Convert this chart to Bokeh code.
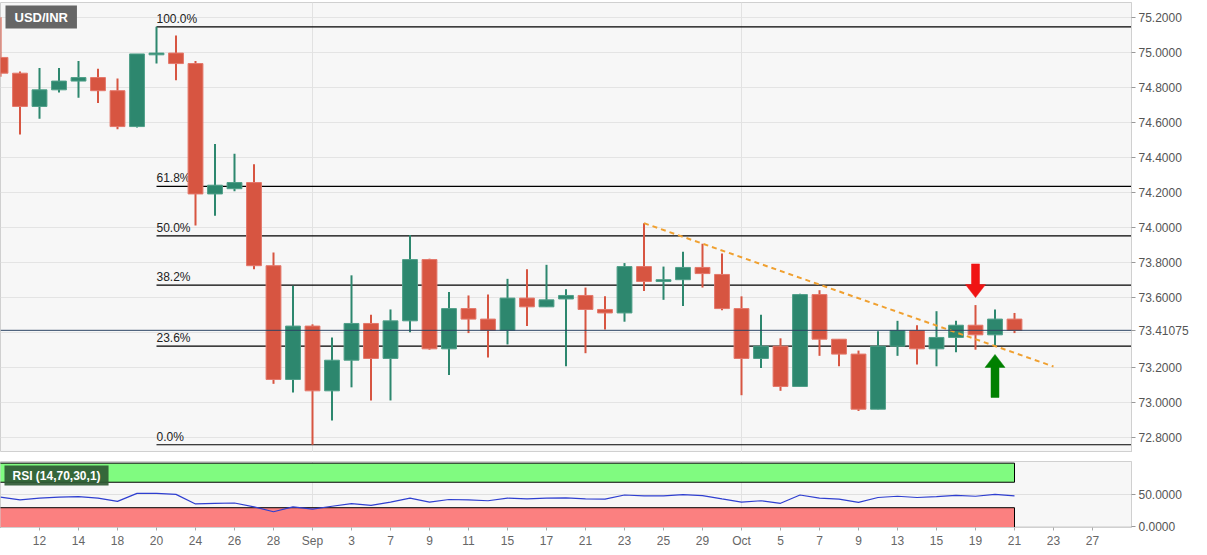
from bokeh.plotting import figure
from bokeh.layouts import column
from bokeh.models import (ColumnDataSource, FixedTicker, PrintfTickFormatter, Label, Span,
                          Range1d, Grid)
from bokeh.core.properties import value
from bokeh.embed import file_html
from bokeh.resources import INLINE

# ---------------- data ----------------
dates = ["Aug 10", "Aug 11", "Aug 12", "Aug 13", "Aug 14", "Aug 17", "Aug 18", "Aug 19", "Aug 20",
         "Aug 21", "Aug 24", "Aug 25", "Aug 26", "Aug 27", "Aug 28", "Aug 31", "Sep 1", "Sep 2",
         "Sep 3", "Sep 4", "Sep 7", "Sep 8", "Sep 9", "Sep 10", "Sep 11", "Sep 14", "Sep 15",
         "Sep 16", "Sep 17", "Sep 18", "Sep 21", "Sep 22", "Sep 23", "Sep 24", "Sep 25", "Sep 28",
         "Sep 29", "Sep 30", "Oct 1", "Oct 2", "Oct 5", "Oct 6", "Oct 7", "Oct 8", "Oct 9",
         "Oct 12", "Oct 13", "Oct 14", "Oct 15", "Oct 16", "Oct 19", "Oct 20", "Oct 21"]

opens = [74.97, 74.88, 74.69, 74.785, 74.835, 74.855, 74.78, 74.575, 74.985, 74.995,
         74.935, 74.19, 74.22, 74.255, 73.78, 73.13, 73.435, 73.065, 73.24, 73.45,
         73.25, 73.465, 73.815, 73.305, 73.535, 73.475, 73.41, 73.595, 73.545, 73.59,
         73.61, 73.53, 73.51, 73.775, 73.69, 73.70, 73.77, 73.73, 73.535, 73.25,
         73.32, 73.09, 73.615, 73.36, 73.275, 72.96, 73.32, 73.41, 73.305, 73.37,
         73.44, 73.385, 73.475]
highs = [75.20, 74.89, 74.91, 74.91, 74.95, 74.905, 74.85, 74.99, 75.145, 75.095,
         74.95, 74.475, 74.42, 74.36, 73.855, 73.665, 73.445, 73.37, 73.725, 73.50,
         73.53, 73.955, 73.82, 73.63, 73.61, 73.615, 73.705, 73.76, 73.785, 73.645,
         73.655, 73.605, 73.795, 74.023, 73.775, 73.86, 73.905, 73.85, 73.605, 73.50,
         73.365, 73.62, 73.64, 73.36, 73.295, 73.405, 73.465, 73.44, 73.52, 73.465,
         73.555, 73.53, 73.51]
lows = [74.86, 74.53, 74.62, 74.77, 74.74, 74.71, 74.56, 74.57, 74.935, 74.84,
        74.01, 74.065, 74.205, 73.76, 73.105, 73.055, 72.757, 72.895, 73.085, 73.01,
        73.01, 73.40, 73.30, 73.155, 73.395, 73.255, 73.33, 73.435, 73.545, 73.205,
        73.28, 73.415, 73.46, 73.635, 73.585, 73.55, 73.655, 73.525, 73.04, 73.195,
        73.065, 73.09, 73.265, 73.205, 72.95, 72.96, 73.265, 73.215, 73.205, 73.285,
        73.30, 73.315, 73.395]
closes = [74.88, 74.69, 74.785, 74.835, 74.855, 74.78, 74.575, 74.99, 74.995, 74.935,
          74.19, 74.24, 74.255, 73.78, 73.13, 73.435, 73.065, 73.24, 73.45, 73.25,
          73.465, 73.815, 73.305, 73.535, 73.475, 73.41, 73.595, 73.545, 73.585, 73.61,
          73.53, 73.51, 73.775, 73.69, 73.70, 73.77, 73.735, 73.535, 73.25, 73.32,
          73.09, 73.615, 73.36, 73.275, 72.96, 73.32, 73.41, 73.305, 73.37, 73.44,
          73.385, 73.475, 73.41]

rsi = [46.5, 42.4, 45.0, 46.5, 47.5, 45.0, 39.9, 52.5, 52.5, 51.0,
       35.9, 36.9, 37.4, 31.3, 23.7, 31.3, 27.8, 32.3, 36.4, 33.8,
       38.9, 45.0, 38.9, 42.9, 42.4, 40.9, 45.0, 43.9, 45.0, 45.5,
       43.9, 43.4, 50.0, 48.5, 48.5, 50.5, 49.0, 43.9, 38.9, 40.9,
       36.9, 50.0, 45.0, 43.4, 38.4, 46.0, 48.0, 46.0, 47.5, 49.5,
       48.0, 51.0, 48.5]

tick_labels = ["Aug", "12", "14", "18", "20", "24", "26", "28", "Sep", "3", "7", "9", "11",
               "15", "17", "21", "23", "25", "29", "Oct", "5", "7", "9", "13", "15", "19",
               "21", "23", "27"]
price_ticks = [72.8, 73.0, 73.2, 73.4, 73.6, 73.8, 74.0, 74.2, 74.4, 74.6, 74.8, 75.0, 75.2]
rsi_ticks = [0, 50]
month_starts = [16, 38]

fib_ratios = [0.0, 0.236, 0.382, 0.5, 0.618, 1.0]
fib_labels = ["0.0%", "23.6%", "38.2%", "50.0%", "61.8%", "100.0%"]
fib_low = 72.757
fib_high = 75.145
fib_start = 8

trend_x = [33, 54]
trend_y = [74.023, 73.204]
last_price = 73.41075

arrow_x = [50, 51]
arrow_tail = [73.79, 73.027]
arrow_tip = [73.598, 73.273]
arrow_colors = ["#f01414", "#008000"]

rsi_upper = 70
rsi_lower = 30

# ---------------- styling ----------------
GREEN = "#2d876e"
GREEN_EDGE = "#4f9f88"
RED = "#d75541"
RED_EDGE = "#e4776a"
FONT = "Liberation Sans"
W = 1205
RIGHT = 74
X0, X1 = 0.0, 58.0
Y0, Y1 = 72.7126, 75.284
FRAME_W = W - RIGHT
FRAME_H = 450
TOP1 = 2
px_x = FRAME_W / (X1 - X0)
px_y = FRAME_H / (Y1 - Y0)


def style_axis(a, color="#555555", tick_out=4, standoff=3):
    a.major_label_text_font = FONT
    a.major_label_text_font_size = "12px"
    a.major_label_text_color = color
    a.axis_line_color = "#d0d0d0"
    a.major_tick_line_color = "#999999"
    a.major_tick_out = tick_out
    a.major_tick_in = 0
    a.minor_tick_line_color = None
    a.major_label_standoff = standoff


n = len(opens)
idx = list(range(n))
up = [c >= o for o, c in zip(opens, closes)]
src = ColumnDataSource(dict(
    x=idx, open=opens, high=highs, low=lows, close=closes,
    top=[max(o, c) for o, c in zip(opens, closes)],
    bottom=[min(o, c) for o, c in zip(opens, closes)],
    color=[GREEN if u else RED for u in up],
    edge=[GREEN_EDGE if u else RED_EDGE for u in up],
    date=dates,
))

p1 = figure(width=W, height=FRAME_H + TOP1, x_range=Range1d(X0, X1), y_range=Range1d(Y0, Y1),
            output_backend="svg", toolbar_location=None, x_axis_location=None,
            y_axis_location="right", min_border_left=0, min_border_right=RIGHT,
            min_border_top=TOP1, min_border_bottom=0)
p1.background_fill_color = "#f7f7f7"
p1.border_fill_color = "white"
p1.outline_line_color = "#d0d0d0"
for g in p1.xgrid:
    g.visible = False
p1.add_layout(Grid(dimension=0, ticker=FixedTicker(ticks=month_starts),
                   grid_line_color="#e2e2e2"))
p1.ygrid.ticker = FixedTicker(ticks=price_ticks)
p1.ygrid.grid_line_color = "#e4e4e4"

ax = p1.yaxis[0]
# the last price replaces the tick it covers on the price scale
axis_ticks = sorted([t for t in price_ticks if abs(t - last_price) > 0.05] + [last_price])
ax.ticker = FixedTicker(ticks=axis_ticks)
ax.formatter = PrintfTickFormatter(format="%.4f")
ax.major_label_overrides = {last_price: f"{last_price:.5f}"}
style_axis(ax)

# fib retracement lines
fib_levels = [fib_low + r * (fib_high - fib_low) for r in fib_ratios]
p1.ray(x=[fib_start] * len(fib_levels), y=fib_levels, length=0, angle=0,
       line_color="black", line_width=1.2)
p1.text(x=[fib_start] * len(fib_levels), y=fib_levels, text=fib_labels,
        text_baseline="bottom", text_align="left", text_font=value(FONT),
        text_font_size="12px", text_color="#222222", y_offset=-1)

# last price line
p1.add_layout(Span(location=last_price, dimension="width", line_color="#2c4464",
                   line_width=1))

# candles
p1.segment(x0="x", y0="high", x1="x", y1="low", line_color="color", line_width=2, source=src)
p1.vbar(x="x", top="top", bottom="bottom", width=0.76, fill_color="color",
        line_color="edge", line_width=1, source=src)

# trend line
p1.line(trend_x, trend_y, line_color="#f0a030", line_width=2, line_dash="5 4")

# arrows (pixel sizes converted into data units)
hw, HW, HL = 4 / px_x, 10 / px_x, 13 / px_y
axs, ays = [], []
for x, t0, t1 in zip(arrow_x, arrow_tail, arrow_tip):
    d = 1 if t1 > t0 else -1
    b = t1 - d * HL
    axs.append([x - hw, x - hw, x - HW, x, x + HW, x + hw, x + hw])
    ays.append([t0, b, b, t1, b, b, t0])
p1.patches(axs, ays, fill_color=arrow_colors, line_color=arrow_colors, line_width=0.5)

# symbol tag
p1.add_layout(Label(x=X0, y=Y1, text="USD/INR", x_offset=5, y_offset=-3,
                    text_baseline="top", text_align="left", text_color="white",
                    text_font=FONT, text_font_style="bold", text_font_size="13px",
                    background_fill_color="#666666",
                    padding=dict(left=9, right=9, top=4, bottom=4)))

# ---------------- RSI panel ----------------
RY0, RY1 = -1.1, 102.6
p2 = figure(width=W, height=98, x_range=p1.x_range, y_range=Range1d(RY0, RY1),
            output_backend="svg", toolbar_location=None, y_axis_location="right",
            min_border_left=0, min_border_right=RIGHT, min_border_top=9, min_border_bottom=21)
p2.background_fill_color = "#f7f7f7"
p2.border_fill_color = "white"
p2.outline_line_color = "#d0d0d0"
p2.xgrid.ticker = FixedTicker(ticks=month_starts)
p2.xgrid.grid_line_color = "#e2e2e2"
p2.ygrid.ticker = FixedTicker(ticks=rsi_ticks)
p2.ygrid.grid_line_color = "#e0e0e0"

ry = p2.yaxis[0]
ry.ticker = FixedTicker(ticks=rsi_ticks)
ry.formatter = PrintfTickFormatter(format="%.4f")
style_axis(ry)

tick_idx = list(range(0, 2 * len(tick_labels), 2))
rx = p2.xaxis[0]
rx.ticker = FixedTicker(ticks=tick_idx[1:])
rx.major_label_overrides = {i: lab for i, lab in zip(tick_idx, tick_labels)}
style_axis(rx, color="#666666", tick_out=3, standoff=3)
rx.major_tick_line_color = "#aaaaaa"

p2.quad(left=[X0 - 2], right=[n - 1], bottom=[rsi_upper], top=[100],
        fill_color="#80fb80", line_color="black", line_width=1)
p2.quad(left=[X0 - 2], right=[n - 1], bottom=[RY0], top=[rsi_lower],
        fill_color="#fb8080", line_color="black", line_width=1)
p2.line(idx, rsi, line_color="#2f3fd0", line_width=1.2)

p2.add_layout(Label(x=X0, y=RY1, text="RSI (14,70,30,1)", x_offset=4, y_offset=-4,
                    text_baseline="top", text_align="left", text_color="white",
                    text_font=FONT, text_font_style="bold", text_font_size="12px",
                    background_fill_color="#2f5a34", background_fill_alpha=0.92,
                    padding=dict(left=8, right=8, top=3, bottom=3)))

layout = column(p1, p2, spacing=0)
open("out.html", "w").write(file_html(layout, INLINE))
